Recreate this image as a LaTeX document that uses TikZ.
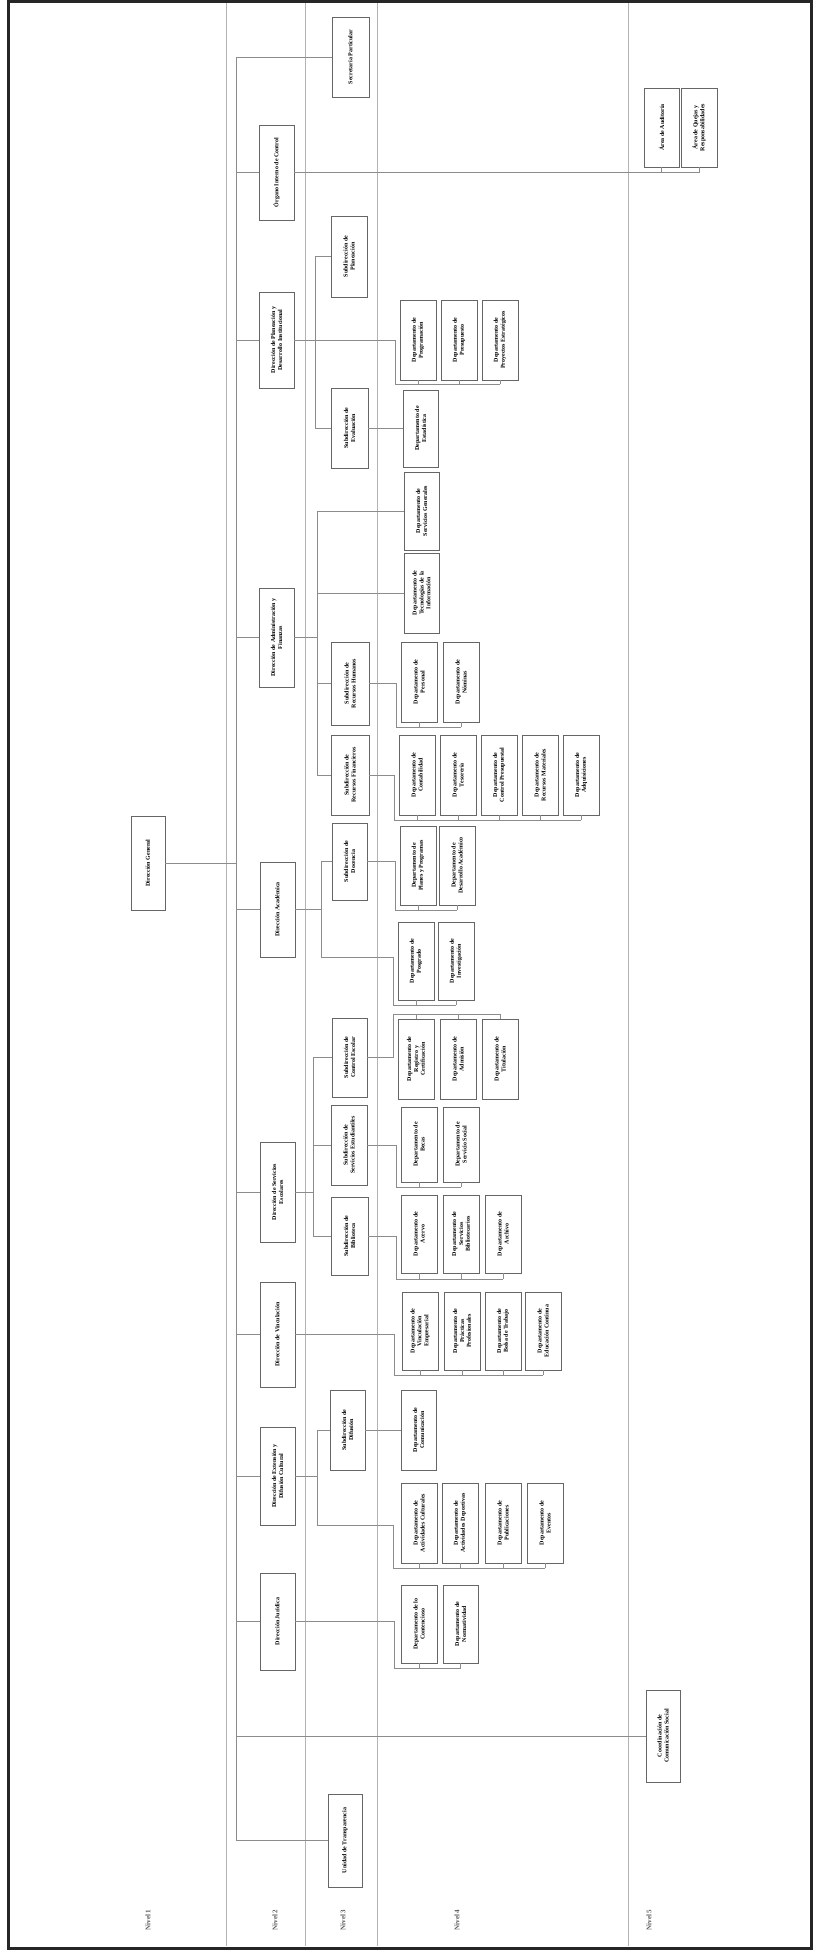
\documentclass[tikz,border=0pt]{standalone}
\usepackage{fontspec}
\setmainfont{Liberation Serif}
\usepackage{graphicx}
\usetikzlibrary{calc}
\tikzset{
  orgbox/.style={draw=black!60, line width=0.6pt, fill=white, inner sep=0pt, outer sep=0pt},
  conn/.style={draw=black!45, line width=0.5pt},
  divider/.style={draw=black!30, line width=0.5pt},
  lvl/.style={text=black!65, inner sep=0pt, font=\bfseries\fontsize{7}{8}\selectfont},
}
\newcommand\obox[6]{%
  \node[orgbox, minimum width={(#4-#2)*1pt}, minimum height={(#5-#3)*1pt}] (#1)
    at ({(#2+#4)/2},{(#3+#5)/2})
    {\rotatebox{90}{\parbox{\dimexpr #5pt-#3pt-20pt\relax}{\centering\bfseries\fontsize{6}{6.9}\selectfont #6}}};}
\begin{document}
\begin{tikzpicture}[x=1pt,y=-1pt]
\useasboundingbox (0,0) rectangle (814,1951);
\fill[white] (0,0) rectangle (814,1951);
% level dividers
\foreach \x in {226,305,377,628} \draw[divider] (\x,3) -- (\x,1946);
% level labels
\node[lvl, rotate=90] (lv1) at (148,1920) {Nivel 1};
\node[lvl, rotate=90] (lv2) at (275,1920) {Nivel 2};
\node[lvl, rotate=90] (lv3) at (343,1920) {Nivel 3};
\node[lvl, rotate=90] (lv4) at (457,1920) {Nivel 4};
\node[lvl, rotate=90] (lv5) at (649,1920) {Nivel 5};

% ---------- Nivel 1
\obox{dg}{131}{816}{165}{910}{Dirección General}
% ---------- Nivel 2
\obox{dA}{259}{125}{294}{220}{Órgano Interno de Control}
\obox{dB}{259}{292}{294}{388}{Dirección de Planeación y Desarrollo Institucional}
\obox{dC}{259}{588}{294}{687}{Dirección de Administración y Finanzas}
\obox{dD}{260}{862}{295}{957}{Dirección Académica}
\obox{dE}{260}{1142}{295}{1242}{Dirección de Servicios Escolares}
\obox{dF}{260}{1282}{295}{1387}{Dirección de Vinculación}
\obox{dG}{260}{1427}{295}{1525}{Dirección de Extensión y Difusión Cultural}
\obox{dH}{260}{1573}{295}{1670}{Dirección Jurídica}
% ---------- Nivel 3
\obox{n1}{332}{17}{369}{97}{Secretaría Particular}
\obox{n2}{331}{216}{367}{297}{Subdirección de Planeación}
\obox{n3}{331}{388}{368}{468}{Subdirección de Evaluación}
\obox{n4}{331}{642}{369}{725}{Subdirección de Recursos Humanos}
\obox{n5}{331}{735}{369}{815}{Subdirección de Recursos Financieros}
\obox{n6}{332}{823}{367}{900}{Subdirección de Docencia}
\obox{n7}{332}{1018}{367}{1097}{Subdirección de Control Escolar}
\obox{n8}{331}{1105}{367}{1185}{Subdirección de Servicios Estudiantiles}
\obox{n9}{331}{1197}{368}{1275}{Subdirección de Biblioteca}
\obox{n10}{330}{1390}{365}{1470}{Subdirección de Difusión}
\obox{n11}{328}{1794}{362}{1887}{Unidad de Transparencia}
% ---------- Nivel 4
\obox{b1}{400}{300}{436}{380}{Departamento de Programación}
\obox{b2}{441}{300}{477}{380}{Departamento de Presupuesto}
\obox{b3}{482}{300}{518}{380}{Departamento de Proyectos Estratégicos}
\obox{d1}{403}{390}{438}{467}{Departamento de Estadística}
\obox{e1}{404}{472}{439}{550}{Departamento de Servicios Generales}
\obox{e2}{404}{553}{439}{633}{Departamento de Tecnologías de la Información}
\obox{f1}{401}{642}{437}{722}{Departamento de Personal}
\obox{f2}{443}{642}{479}{722}{Departamento de Nóminas}
\obox{g1}{399}{735}{435}{815}{Departamento de Contabilidad}
\obox{g2}{440}{735}{476}{815}{Departamento de Tesorería}
\obox{g3}{481}{735}{517}{815}{Departamento de Control Presupuestal}
\obox{g4}{522}{735}{558}{815}{Departamento de Recursos Materiales}
\obox{g5}{563}{735}{599}{815}{Departamento de Adquisiciones}
\obox{h1}{400}{826}{436}{905}{Departamento de Planes y Programas}
\obox{h2}{439}{826}{475}{905}{Departamento de Desarrollo Académico}
\obox{i1}{398}{922}{434}{1000}{Departamento de Posgrado}
\obox{i2}{438}{922}{474}{1000}{Departamento de Investigación}
\obox{k1}{398}{1019}{434}{1099}{Departamento de Registro y Certificación}
\obox{k2}{440}{1019}{476}{1099}{Departamento de Admisión}
\obox{k3}{482}{1019}{518}{1099}{Departamento de Titulación}
\obox{l1}{401}{1107}{437}{1182}{Departamento de Becas}
\obox{l2}{443}{1107}{479}{1182}{Departamento de Servicio Social}
\obox{m1}{401}{1195}{437}{1273}{Departamento de Acervo}
\obox{m2}{443}{1195}{479}{1273}{Departamento de Servicios Bibliotecarios}
\obox{m3}{485}{1195}{521}{1273}{Departamento de Archivo}
\obox{o1}{402}{1292}{438}{1370}{Departamento de Vinculación Empresarial}
\obox{o2}{444}{1292}{480}{1370}{Departamento de Prácticas Profesionales}
\obox{o3}{485}{1292}{521}{1370}{Departamento de Bolsa de Trabajo}
\obox{o4}{525}{1292}{561}{1370}{Departamento de Educación Continua}
\obox{s1}{401}{1390}{436}{1470}{Departamento de Comunicación}
\obox{q1}{401}{1483}{437}{1563}{Departamento de Actividades Culturales}
\obox{q2}{442}{1483}{478}{1563}{Departamento de Actividades Deportivas}
\obox{q3}{485}{1483}{521}{1563}{Departamento de Publicaciones}
\obox{q4}{527}{1483}{563}{1563}{Departamento de Eventos}
\obox{r1}{401}{1585}{437}{1663}{Departamento de lo Contencioso}
\obox{r2}{443}{1585}{478}{1663}{Departamento de Normatividad}
% ---------- Nivel 5
\obox{z1}{644}{88}{679}{167}{Área de Auditoría}
\obox{z2}{681}{88}{717}{167}{Área de Quejas y Responsabilidades}
\obox{c5}{646}{1690}{680}{1782}{Coordinación de Comunicación Social}

% ---------- connectors
\coordinate (bus) at (236,0);
\draw[conn] (n1.west) -- (n1.west -| bus) -- (n11.west -| bus) -- (n11.west);
\draw[conn] (dg.east) -- (dg.east -| bus);
\foreach \n in {dA,dB,dC,dD,dE,dF,dG,dH,c5} \draw[conn] (\n.west) -- (\n.west -| bus);

% A -> Nivel 5 pair
\draw[conn] (dA.east) -- (dA.east -| z2.south);
\foreach \b in {z1,z2} \draw[conn] (\b.south) -- (\b.south |- dA.east);

% B
\coordinate (sB) at (315,0);
\draw[conn] (n2.west) -- (n2.west -| sB) -- (n3.west -| sB) -- (n3.west);
\coordinate (jB) at (395,384);
\draw[conn] (dB.east) -| (jB) -- (jB -| b3.south);
\foreach \b in {b1,b2,b3} \draw[conn] (\b.south) -- (\b.south |- jB);
\draw[conn] (n3.east) -- (n3.east -| d1.west);

% C
\coordinate (sC) at (317,0);
\draw[conn] (e1.west) -- (e1.west -| sC) -- (n5.west -| sC) -- (n5.west);
\draw[conn] (e2.west) -- (e2.west -| sC);
\draw[conn] (n4.west) -- (n4.west -| sC);
\draw[conn] (dC.east) -- (dC.east -| sC);
\coordinate (jf) at (396,727);
\draw[conn] (n4.east) -| (jf) -- (jf -| f2.south);
\foreach \b in {f1,f2} \draw[conn] (\b.south) -- (\b.south |- jf);
\coordinate (jg) at (394,820);
\draw[conn] (n5.east) -| (jg) -- (jg -| g5.south);
\foreach \b in {g1,g2,g3,g4,g5} \draw[conn] (\b.south) -- (\b.south |- jg);

% D
\coordinate (sD) at (321,0);
\coordinate (jD) at (393,1005);
\draw[conn] (n6.west) -- (n6.west -| sD) -- (sD |- dD.south) -- (jD |- dD.south) -- (jD) -- (jD -| i2.south);
\draw[conn] (dD.east) -- (dD.east -| sD);
\foreach \b in {i1,i2} \draw[conn] (\b.south) -- (\b.south |- jD);
\coordinate (jh) at (395,910);
\draw[conn] (n6.east) -| (jh) -- (jh -| h2.south);
\foreach \b in {h1,h2} \draw[conn] (\b.south) -- (\b.south |- jh);

% E
\coordinate (sE) at (313,0);
\draw[conn] (n7.west) -- (n7.west -| sE) -- (n9.west -| sE) -- (n9.west);
\draw[conn] (n8.west) -- (n8.west -| sE);
\draw[conn] (dE.east) -- (dE.east -| sE);
\coordinate (jk) at (393,1014);
\draw[conn] (n7.east) -| (jk) -- (jk -| k3.north);
\foreach \b in {k1,k2,k3} \draw[conn] (\b.north) -- (\b.north |- jk);
\coordinate (jl) at (396,1187);
\draw[conn] (n8.east) -| (jl) -- (jl -| l2.south);
\foreach \b in {l1,l2} \draw[conn] (\b.south) -- (\b.south |- jl);
\coordinate (jm) at (396,1279);
\draw[conn] (n9.east) -| (jm) -- (jm -| m3.south);
\foreach \b in {m1,m2,m3} \draw[conn] (\b.south) -- (\b.south |- jm);

% F
\coordinate (jo) at (394,1375);
\draw[conn] (dF.east) -| (jo) -- (jo -| o4.south);
\foreach \b in {o1,o2,o3,o4} \draw[conn] (\b.south) -- (\b.south |- jo);

% G
\coordinate (sG) at (317,0);
\coordinate (jq) at (393,1568);
\draw[conn] (n10.west) -- (n10.west -| sG) -- (sG |- dG.south) -- (jq |- dG.south) -- (jq) -- (jq -| q4.south);
\draw[conn] (dG.east) -- (dG.east -| sG);
\foreach \b in {q1,q2,q3,q4} \draw[conn] (\b.south) -- (\b.south |- jq);
\draw[conn] (n10.east) -- (n10.east -| s1.west);

% H
\coordinate (jr) at (394,1668);
\draw[conn] (dH.east) -| (jr) -- (jr -| r2.south);
\foreach \b in {r1,r2} \draw[conn] (\b.south) -- (\b.south |- jr);

% frame
\draw[line width=3pt, black!85] (8,2) rectangle (811,1948);
\end{tikzpicture}
\end{document}
